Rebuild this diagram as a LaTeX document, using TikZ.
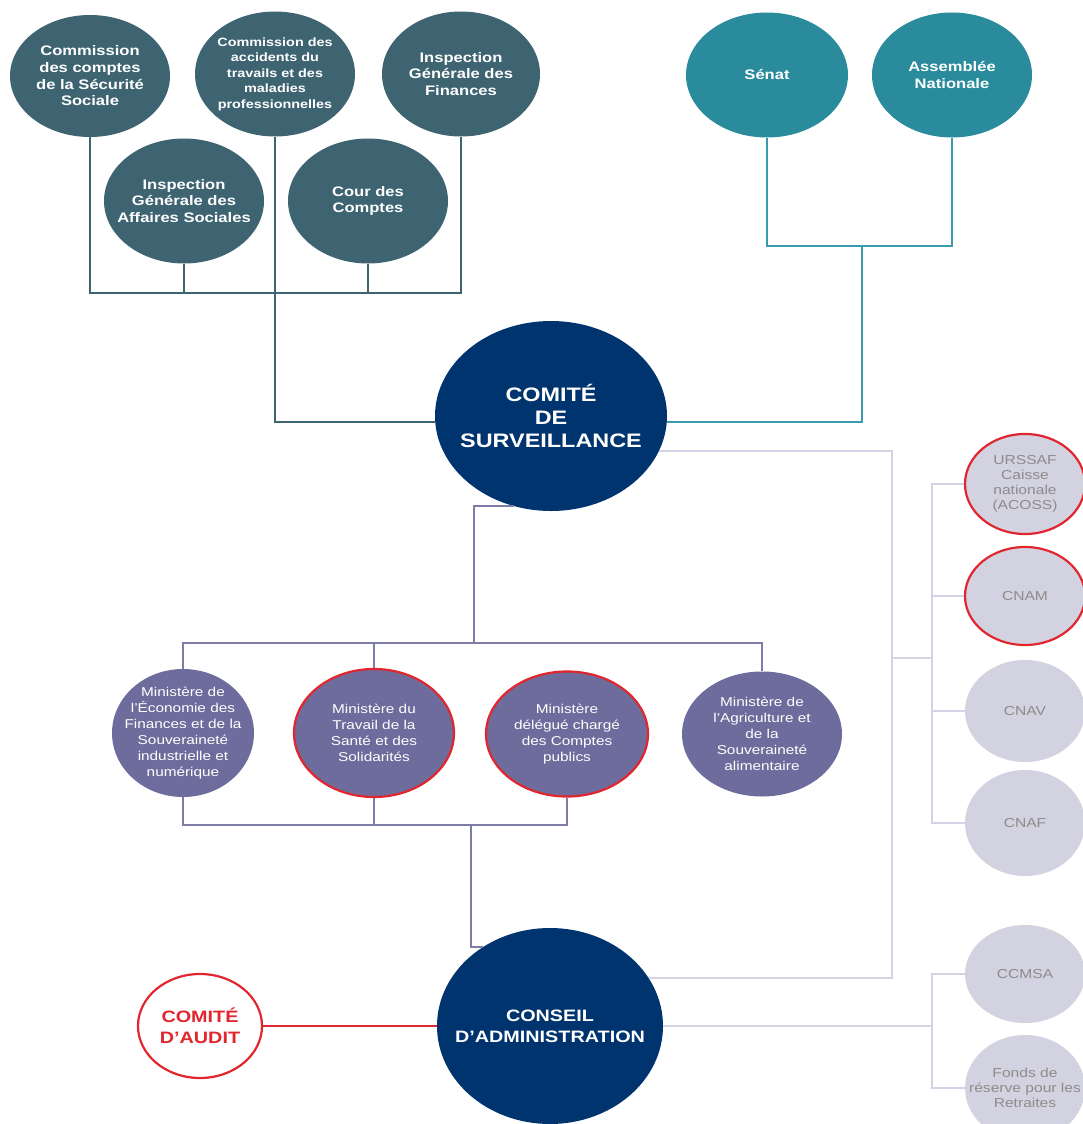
\documentclass[tikz,border=0pt]{standalone}
\usepackage{fontspec}
\setmainfont{Liberation Sans}[FakeStretch=1.2]
\usetikzlibrary{shapes.geometric}

\definecolor{ctrlteal}{HTML}{3E6472}
\definecolor{parlteal}{HTML}{2A8B9D}
\definecolor{parlline}{HTML}{3A9AAE}
\definecolor{navy}{HTML}{00346E}
\definecolor{mauve}{HTML}{6D6C9C}
\definecolor{mauveline}{HTML}{7E7DA8}
\definecolor{caisse}{HTML}{D3D2E0}
\definecolor{caisseline}{HTML}{D3D3E5}
\definecolor{caissetxt}{HTML}{8C8C8C}
\definecolor{alert}{HTML}{E1262F}

\newcommand{\fsz}[2]{\fontsize{#1}{#2}\selectfont}

\begin{document}
\begin{tikzpicture}
  [x=1pt,y=-1pt,
    oval/.style 2 args={ellipse,inner sep=0pt,minimum width=#1,minimum height=#2},
    ctrl/.style={fill=ctrlteal},
    parl/.style={fill=parlteal},
    board/.style={fill=navy},
    mini/.style={fill=mauve},
    caisse/.style={fill=caisse},
    redrim/.style={draw=alert,line width=2.2pt},
    toptxt/.style={align=center,text=white,font=\bfseries\fsz{13.8}{16.7}},
    boardtxt/.style={align=center,text=white,font=\bfseries\fsz{16.5}{21}},
    minitxt/.style={align=center,text=white,font=\fsz{12.8}{16}},
    caissetxt/.style={align=center,text=caissetxt,font=\fsz{13}{15}},
    ctrlline/.style={draw=ctrlteal,line width=1.8pt},
    parlline/.style={draw=parlline,line width=1.8pt},
    miniline/.style={draw=mauveline,line width=1.8pt},
    caisseline/.style={draw=caisseline,line width=1.8pt}]

  \path[use as bounding box,fill=white] (0,0) rectangle (1082,1124);

  % controle
  \node[oval={160pt}{122pt},ctrl,
    label={[toptxt]center:{Commission\\des comptes\\de la Sécurité\\Sociale}}] (ccss) at (90,76) {};
  \node[oval={160pt}{125pt},ctrl,
    label={[toptxt,font=\bfseries\fsz{12}{15.5}]center:{Commission des\\accidents du\\travails et des\\maladies\\professionnelles}}] (catmp) at (275,74) {};
  \node[oval={158pt}{125pt},ctrl,
    label={[toptxt]center:{Inspection\\Générale des\\Finances}}] (igf) at (461,74) {};
  \node[oval={160pt}{125pt},ctrl,
    label={[toptxt]center:{Inspection\\Générale des\\Affaires Sociales}}] (igas) at (184,201) {};
  \node[oval={160pt}{125pt},ctrl,
    label={[toptxt]center:{Cour des\\Comptes}}] (cour) at (368,201) {};

  % parlement
  \node[oval={162pt}{125pt},parl,label={[toptxt]center:{Sénat}}] (senat) at (767,75) {};
  \node[oval={160pt}{125pt},parl,
    label={[toptxt]center:{Assemblée\\Nationale}}] (an) at (952,75) {};

  % gouvernance
  \node[oval={232pt}{190pt},board,
    label={[boardtxt,font=\bfseries\fsz{19.5}{23}]center:{COMITÉ\\DE\\SURVEILLANCE}}] (cds) at (551,416) {};
  \node[oval={226pt}{196pt},board,
    label={[boardtxt]center:{CONSEIL\\D’ADMINISTRATION}}] (ca) at (550,1026) {};
  \node[oval={124pt}{104pt},fill=white,redrim,
    label={[boardtxt,text=alert]center:{COMITÉ\\D’AUDIT}}] (audit) at (200,1026) {};

  % ministeres
  \node[oval={142pt}{128pt},mini,
    label={[minitxt]center:{Ministère de\\l’Économie des\\Finances et de la\\Souveraineté\\industrielle et\\numérique}}] (m1) at (183,733) {};
  \node[oval={160pt}{128pt},mini,redrim,
    label={[minitxt]center:{Ministère du\\Travail de la\\Santé et des\\Solidarités}}] (m2) at (374,733) {};
  \node[oval={162pt}{125pt},mini,redrim,
    label={[minitxt]center:{Ministère\\délégué chargé\\des Comptes\\publics}}] (m3) at (567,734) {};
  \node[oval={160pt}{125pt},mini,
    label={[minitxt]center:{Ministère de\\l’Agriculture et\\de la\\Souveraineté\\alimentaire}}] (m4) at (762,734) {};

  % caisses
  \node[oval={120pt}{100pt},caisse,redrim,
    label={[caissetxt]center:{URSSAF\\Caisse\\nationale\\(ACOSS)}}] (urssaf) at (1025,484) {};
  \node[oval={120pt}{98pt},caisse,redrim,label={[caissetxt]center:{CNAM}}] (cnam) at (1025,596) {};
  \node[oval={120pt}{102pt},caisse,label={[caissetxt]center:{CNAV}}] (cnav) at (1025,711) {};
  \node[oval={120pt}{106pt},caisse,label={[caissetxt]center:{CNAF}}] (cnaf) at (1025,823) {};
  \node[oval={120pt}{98pt},caisse,label={[caissetxt]center:{CCMSA}}] (ccmsa) at (1025,974) {};
  \node[oval={120pt}{106pt},caisse,
    label={[caissetxt]center:{Fonds de\\réserve pour les\\Retraites}}] (frr) at (1025,1088) {};

  \coordinate (ctrlbus) at (275,293);
  \coordinate (parlbus) at (862,246);
  \coordinate (mtop) at (474,643);
  \coordinate (mbot) at (471,825);
  \coordinate (rail) at (892,658);
  \coordinate (rbus) at (932,658);
  \coordinate (rbus2) at (932,1026);

  \draw[ctrlline] (ccss.south) |- (ctrlbus) -| (igf.south);
  \foreach \n in {igas,cour}
    \draw[ctrlline] (\n.south) -- (\n.south |- ctrlbus);
  \draw[ctrlline] (catmp.south) |- (cds.183);

  \draw[parlline] (senat.south) |- (parlbus) -| (an.south);
  \draw[parlline] (parlbus) |- (cds.357);

  \draw[miniline] (cds.248) -| (mtop);
  \draw[miniline] (m1.north) |- (mtop) -| (m4.north);
  \draw[miniline] (m2.north) -- (m2.north |- mtop);
  \draw[miniline] (m1.south) |- (mbot) -| (m3.south);
  \draw[miniline] (m2.south) -- (m2.south |- mbot);
  \draw[miniline] (mbot) |- (ca.130);

  \draw[caisseline] (cds.342) -| (rail) |- (ca.26);
  \draw[caisseline] (rail) -- (rbus);
  \foreach \n in {urssaf,cnam,cnav,cnaf}
    \draw[caisseline] (\n.west) -| (rbus);
  \draw[caisseline] (ca.east) -- (rbus2);
  \foreach \n in {ccmsa,frr}
    \draw[caisseline] (\n.west) -| (rbus2);

  \draw[draw=alert,line width=1.8pt] (audit.east) -- (ca.west);

\end{tikzpicture}
\end{document}
